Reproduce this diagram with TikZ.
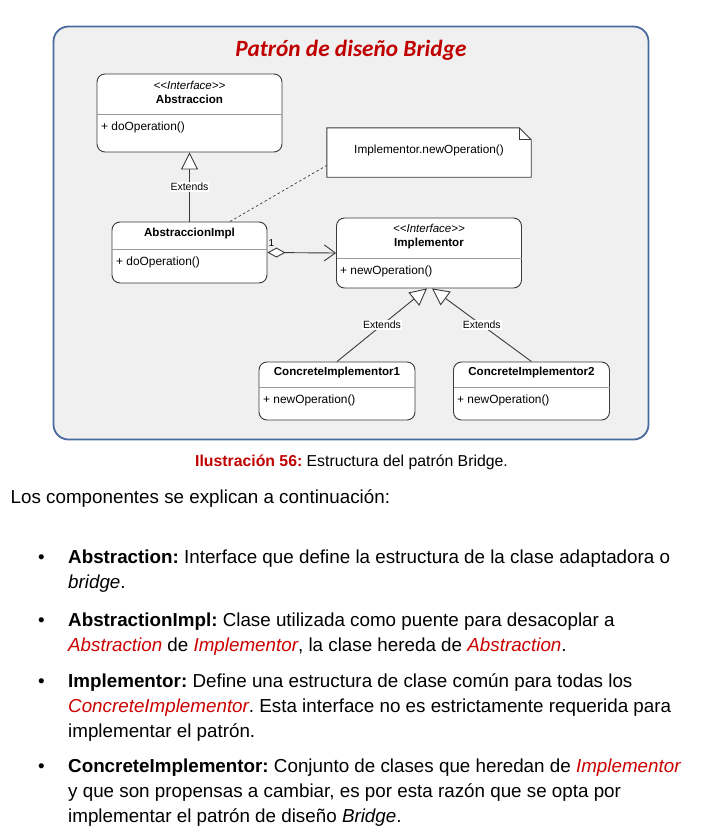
\documentclass[tikz,border=0pt]{standalone}
\usepackage{fontspec}
\setmainfont{Liberation Sans}
\newfontfamily\titlefont{Carlito}
\usetikzlibrary{arrows.meta,calc}
\definecolor{framebd}{HTML}{4A6A9F}
\definecolor{framebg}{HTML}{F0F0F0}
\definecolor{titred}{HTML}{C00000}
\definecolor{boxbd}{HTML}{3A3A3A}
\definecolor{sepc}{HTML}{9A9A9A}
\definecolor{bodyred}{HTML}{CC0000}
\frenchspacing
\begin{document}
\begin{tikzpicture}[x=1pt,y=-1pt,
  umlbox/.style={draw=boxbd, fill=white, line width=0.9pt, rounded corners=8pt, inner sep=0pt},
  stereo/.style={font=\fontsize{11.5}{13}\selectfont\itshape, inner sep=0pt},
  cname/.style={font=\fontsize{11.6}{13}\selectfont\bfseries, inner sep=0pt},
  meth/.style={font=\fontsize{11.9}{13}\selectfont, inner sep=0pt, anchor=west},
  sepline/.style={draw=sepc, line width=0.7pt},
  lbl/.style={font=\fontsize{10.5}{12}\selectfont, fill=white, inner sep=1pt},
  inherit/.style={draw=boxbd, line width=0.9pt, -{Triangle[open, length=17pt, width=17pt, fill=white]}},
  bodytxt/.style={font=\fontsize{18.8}{24}\selectfont\frenchspacing, inner sep=0pt, anchor=base west},
  bul/.style={font=\fontsize{18.8}{24}\selectfont, inner sep=0pt, anchor=base},
]
\useasboundingbox (0,0) rectangle (704,835);
\fill[white] (0,0) rectangle (704,835);

% frame
\draw[framebd, line width=1.8pt, fill=framebg, rounded corners=15pt] (53.5,26.5) rectangle (648.5,439.5);
\node[font=\fontsize{23.3}{26}\selectfont\titlefont\bfseries\itshape, text=titred, anchor=base, inner sep=0pt] (title) at (351,56) {Patrón de diseño Bridge};

% Abstraccion
\node[umlbox, minimum width=185pt, minimum height=78pt] (abs) at (189.5,113) {};
\node[stereo] (absst) at (189.5,85.5) {<\kern0pt<Interface>\kern0pt>};
\node[cname] (absnm) at (189.5,99) {Abstraccion};
\draw[sepline] (97,114) -- (282,114);
\node[meth] (absm) at (101,127.5) {+ doOperation()};

% AbstraccionImpl
\node[umlbox, minimum width=155pt, minimum height=61pt] (impl) at (189.5,252.5) {};
\node[cname] (implnm) at (189.5,233) {AbstraccionImpl};
\draw[sepline] (112,249) -- (267,249);
\node[meth] (implm) at (116,262) {+ doOperation()};

% Note
\node[minimum width=204pt, minimum height=49pt, inner sep=0pt] (note) at (429,152.5) {};
\draw[draw=boxbd, fill=white, line width=0.9pt]
  (note.north west) -- ($(note.north east)+(-12,0)$) -- ($(note.north east)+(0,12)$) -- (note.south east) -- (note.south west) -- cycle;
\draw[draw=boxbd, line width=0.8pt] ($(note.north east)+(-12,0)$) -- ($(note.north east)+(-12,12)$) -- ($(note.north east)+(0,12)$);
\node[font=\fontsize{11.8}{13}\selectfont, inner sep=0pt] (notet) at (429,150.5) {Implementor.newOperation()};

% Implementor
\node[umlbox, minimum width=185pt, minimum height=70pt] (imp) at (429,253) {};
\node[stereo] (impst) at (429,228.5) {<\kern0pt<Interface>\kern0pt>};
\node[cname] (impnm) at (429,243) {Implementor};
\draw[sepline] (336.5,258) -- (521.5,258);
\node[meth] (impm) at (340,271.5) {+ newOperation()};

% Concrete implementors
\node[umlbox, minimum width=156pt, minimum height=58pt] (ci1) at (337,391) {};
\node[cname] (ci1nm) at (337,372.5) {ConcreteImplementor1};
\draw[sepline] (259,387) -- (415,387);
\node[meth] (ci1m) at (263,400) {+ newOperation()};

\node[umlbox, minimum width=156pt, minimum height=58pt] (ci2) at (531.5,391) {};
\node[cname] (ci2nm) at (531.5,372.5) {ConcreteImplementor2};
\draw[sepline] (453.5,387) -- (609.5,387);
\node[meth] (ci2m) at (457,400) {+ newOperation()};

% connectors
\coordinate (t1) at ($(imp.south)+(-2,0)$);
\coordinate (t2) at ($(imp.south)+(3,0)$);
\draw[inherit] (impl.north) -- node[lbl] {Extends} (abs.south);
\draw[inherit] (ci1.north) -- node[lbl] {Extends} (t1);
\draw[inherit] (ci2.north) -- node[lbl] {Extends} (t2);

\coordinate (dstart) at ($(impl.north west)!0.76!(impl.north east)$);
\coordinate (dend) at ($(note.south west)!0.24!(note.north west)$);
\draw[boxbd, line width=0.7pt, dash pattern=on 2.5pt off 2.5pt] (dstart) -- (dend);

\draw[boxbd, line width=0.9pt, {Diamond[open, fill=white, length=18pt, width=10pt]}-{Straight Barb[length=11pt, width=16pt]}] (impl.east) -- (imp.west);
\node[font=\fontsize{10}{11}\selectfont, inner sep=0pt] (one) at (271.5,243) {1};

% caption
\node[font=\fontsize{15.8}{18}\selectfont, inner sep=0pt, anchor=base] (cap) at (351.5,466) {\textcolor{titred}{\bfseries Ilustración 56:} Estructura del patrón Bridge.};

% body text
\node[font=\fontsize{18.8}{24}\selectfont, inner sep=0pt, anchor=base west] (intro) at (10.5,503) {Los componentes se explican a continuación:};

\node[bul] (b1) at (41.5,563) {\textbullet};
\node[bodytxt] (l1) at (68,563) {\textbf{Abstraction:} Interface que define la estructura de la clase adaptadora o};
\node[bodytxt] (l2) at (68,588) {\textit{bridge}.};

\node[bul] (b2) at (41.5,626) {\textbullet};
\node[bodytxt] (l3) at (68,626) {\textbf{AbstractionImpl:} Clase utilizada como puente para desacoplar a};
\node[bodytxt] (l4) at (68,651) {\textcolor{bodyred}{\itshape Abstraction} de \textcolor{bodyred}{\itshape Implementor}, la clase hereda de \textcolor{bodyred}{\itshape Abstraction}.};

\node[bul] (b3) at (41.5,687) {\textbullet};
\node[bodytxt] (l5) at (68,687) {\textbf{Implementor:} Define una estructura de clase común para todas los};
\node[bodytxt] (l6) at (68,712) {\textcolor{bodyred}{\itshape ConcreteImplementor}. Esta interface no es estrictamente requerida para};
\node[bodytxt] (l7) at (68,737) {implementar el patrón.};

\node[bul] (b4) at (41.5,772) {\textbullet};
\node[bodytxt] (l8) at (68,772) {\textbf{ConcreteImplementor:} Conjunto de clases que heredan de \textcolor{bodyred}{\itshape Implementor}};
\node[bodytxt] (l9) at (68,797) {y que son propensas a cambiar, es por esta razón que se opta por};
\node[bodytxt] (l10) at (68,822) {implementar el patrón de diseño \textit{Bridge}.};
\end{tikzpicture}
\end{document}
